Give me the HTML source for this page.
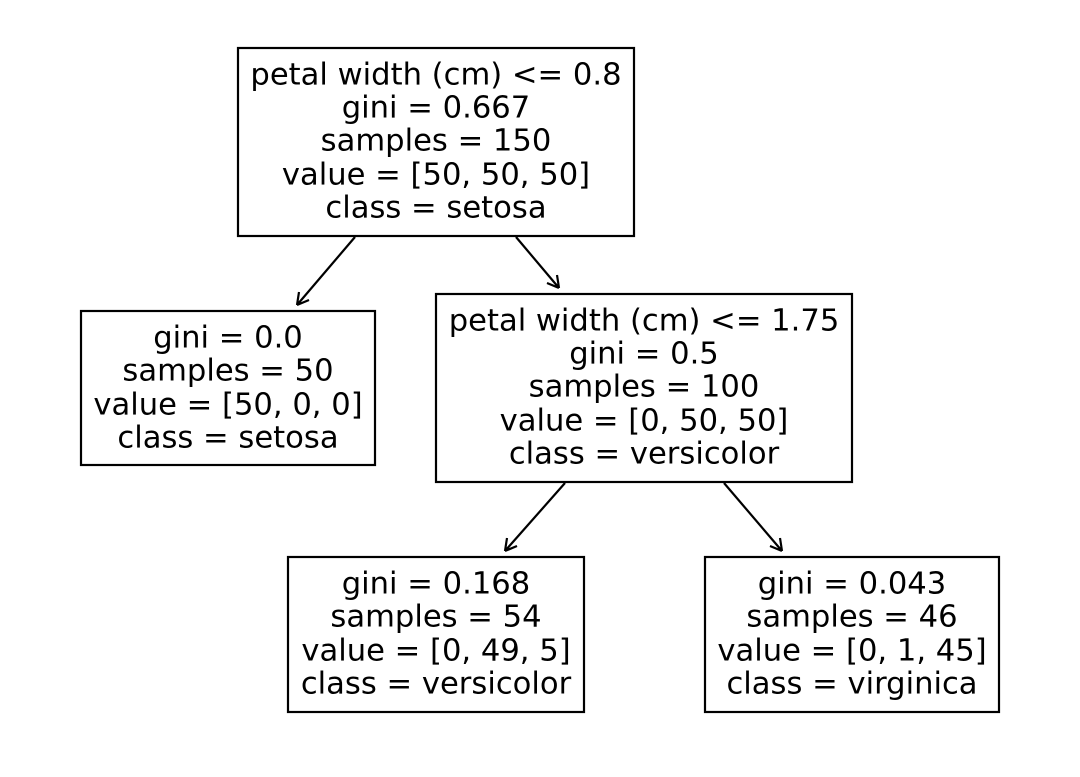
<!DOCTYPE html>
<html><head><meta charset="utf-8"><style>
html,body{margin:0;padding:0;background:#fff;}
svg{display:block;}
text{font-family:"DejaVu Sans","Liberation Sans",sans-serif;font-size:30.6px;fill:#000;text-anchor:middle;dominant-baseline:central;}
rect{fill:#fff;stroke:#000;stroke-width:2.2;}
.a{stroke:#000;stroke-width:2.2;fill:none;}
</style></head><body>
<svg width="1080" height="777" viewBox="0 0 1080 777">
<rect x="238" y="48" width="396" height="188"/>
<text x="436" y="75">petal width (cm) &lt;= 0.8</text>
<text x="436" y="108">gini = 0.667</text>
<text x="436" y="141">samples = 150</text>
<text x="436" y="175">value = [50, 50, 50]</text>
<text x="436" y="208">class = setosa</text>

<rect x="81" y="311" width="294" height="154"/>
<text x="228" y="338">gini = 0.0</text>
<text x="228" y="371">samples = 50</text>
<text x="228" y="405">value = [50, 0, 0]</text>
<text x="228" y="438">class = setosa</text>

<rect x="436" y="294" width="416" height="188"/>
<text x="644" y="321">petal width (cm) &lt;= 1.75</text>
<text x="644" y="354">gini = 0.5</text>
<text x="644" y="387">samples = 100</text>
<text x="644" y="421">value = [0, 50, 50]</text>
<text x="644" y="454">class = versicolor</text>

<rect x="288" y="557" width="296" height="155"/>
<text x="436" y="584">gini = 0.168</text>
<text x="436" y="617">samples = 54</text>
<text x="436" y="651">value = [0, 49, 5]</text>
<text x="436" y="684">class = versicolor</text>

<rect x="705" y="557" width="294" height="155"/>
<text x="852" y="584">gini = 0.043</text>
<text x="852" y="617">samples = 46</text>
<text x="852" y="651">value = [0, 1, 45]</text>
<text x="852" y="684">class = virginica</text>

<path class="a" d="M355,237 L297,305 M297,305 L299,292 M297,305 L309,300"/>
<path class="a" d="M516,237 L559,288 M559,288 L547,283 M559,288 L557,275"/>
<path class="a" d="M565,483 L505,551 M505,551 L507,538 M505,551 L517,546"/>
<path class="a" d="M724,483 L782,551 M782,551 L770,546 M782,551 L780,538"/>
</svg>
</body></html>
